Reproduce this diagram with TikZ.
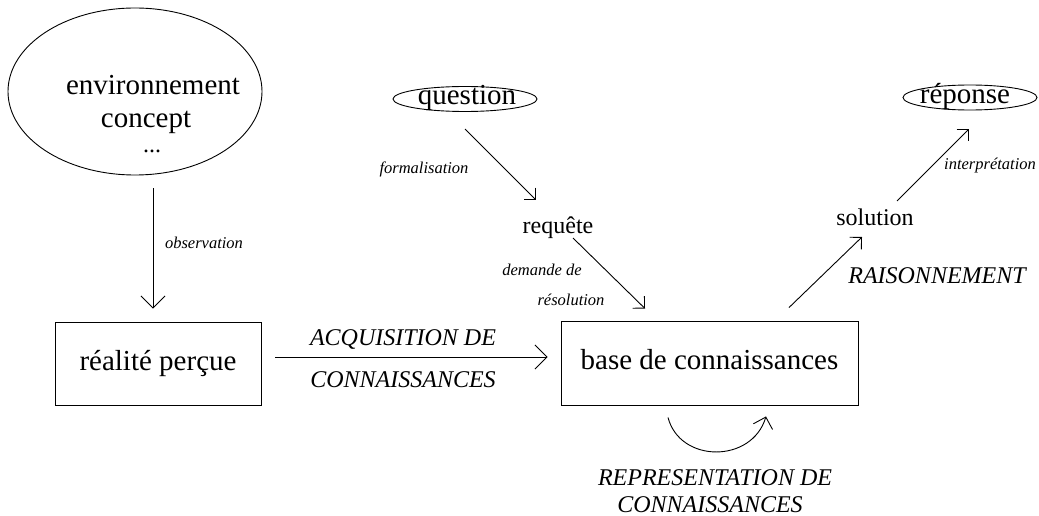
\documentclass[tikz,border=0pt]{standalone}
\usepackage{fontspec}
\setmainfont{Liberation Serif}
\usetikzlibrary{arrows.meta,shapes.geometric}
\begin{document}
\begin{tikzpicture}[x=1pt,y=-1pt,
  line width=0.9pt,
  big/.style={font=\fontsize{29}{33}\selectfont},
  mid/.style={font=\fontsize{24}{28}\selectfont},
  caps/.style={font=\fontsize{24}{27}\selectfont\itshape},
  small/.style={font=\fontsize{16.5}{20}\selectfont\itshape},
  txt/.style={inner sep=0pt, anchor=base},
  frame/.style={draw, rectangle, inner sep=0pt, text height=19pt, text depth=6pt, big},
  oval/.style={draw, ellipse, inner sep=0pt},
  bigtip/.style={-{Straight Barb[length=12pt,width=24pt]}},
  smalltip/.style={-{Straight Barb[length=8.5pt,width=17pt]}},
  curvetip/.style={-{Straight Barb[length=10pt,width=20pt]}},
]
\useasboundingbox (0,0) rectangle (1039,516);

% observed world
\node[oval, minimum width=254pt, minimum height=167pt] (env) at (135,91.5) {};
\node[txt,big] (env1) at (153,95) {environnement};
\node[txt,big] (env2) at (146,128) {concept};
\node[txt,mid] (env3) at (152,153) {...};

% boxes
\node[frame, minimum width=206pt, minimum height=83pt] (real) at (158,363.5) {réalité perçue};
\node[frame, minimum width=297pt, minimum height=84pt] (base) at (709.5,363) {base de connaissances};

% question / answer ovals
\node[oval, minimum width=144pt, minimum height=25pt] (qoval) at (465,99) {};
\node[txt,big] (question) at (467,105) {question};
\node[oval, minimum width=134pt, minimum height=25pt] (roval) at (970,97.5) {};
\node[txt,big] (reponse) at (965,104) {réponse};

% intermediate texts
\node[txt,mid] (req) at (558,233) {requête};
\node[txt,mid] (sol) at (875,225) {solution};

% arrow labels
\node[txt,small] (lobs) at (204,248) {observation};
\node[txt,small] (lform) at (424,174) {formalisation};
\node[txt,small] (ldem1) at (542,275) {demande de};
\node[txt,small] (ldem2) at (571,305) {résolution};
\node[txt,small] (linterp) at (990,169) {interprétation};
\node[txt,caps] (lacq1) at (403,345) {ACQUISITION DE};
\node[txt,caps] (lacq2) at (403,387) {CONNAISSANCES};
\node[txt,caps] (lrais) at (937,283) {RAISONNEMENT};
\node[txt,caps] (lrep1) at (715,485) {REPRESENTATION DE};
\node[txt,caps] (lrep2) at (710,512) {CONNAISSANCES};

% connectors
\draw[bigtip] ([shift={(18,13)}]env.south) -- ([shift={(-5,-13)}]real.north);
\draw[bigtip] ([shift={(14,-6.5)}]real.east) -- ([shift={(-13,-6)}]base.west);
\draw[smalltip] ([shift={(-2,24)}]question.base) -- ([shift={(-22,-33)}]req.base);
\draw[smalltip] ([shift={(15,5)}]req.base) -- ([shift={(-64.5,-12)}]base.north);
\draw[smalltip] ([shift={(79.5,-13)}]base.north) -- ([shift={(-13,12)}]sol.base);
\draw[smalltip] ([shift={(22,-24)}]sol.base) -- ([shift={(4,25)}]reponse.base);
\draw[curvetip] ([shift={(-41.5,12)}]base.south)
  .. controls ([shift={(-29.5,58)}]base.south) and ([shift={(42.5,58)}]base.south)
  .. ([shift={(56.5,11)}]base.south);
\end{tikzpicture}
\end{document}
